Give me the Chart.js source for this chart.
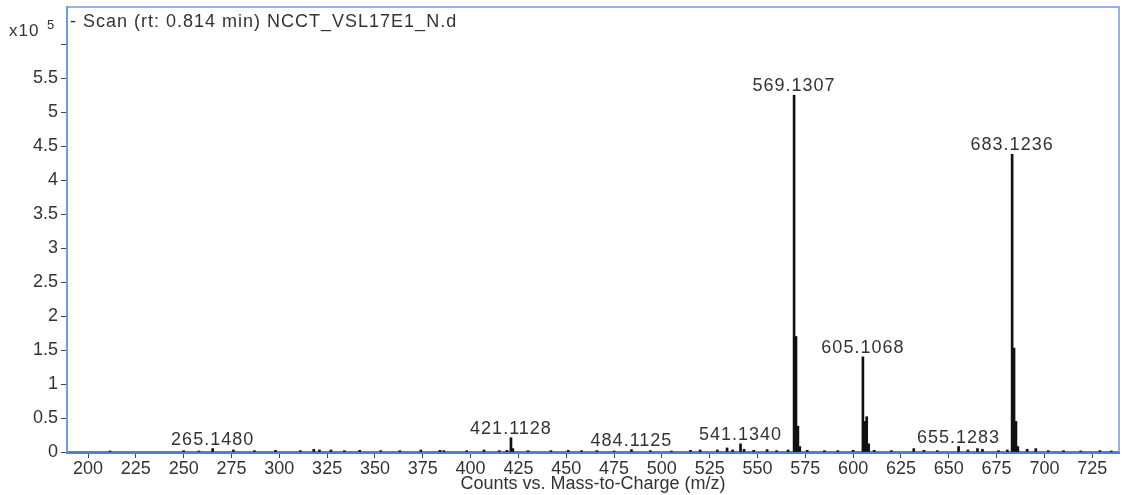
<!DOCTYPE html>
<html>
<head>
<meta charset="utf-8">
<script src="https://cdn.jsdelivr.net/npm/chart.js@4.4.1/dist/chart.umd.min.js"></script>
<style>
  html, body { margin: 0; padding: 0; background: #ffffff; }
  #wrap { position: relative; width: 1122px; height: 495px; }
</style>
</head>
<body>
<div id="wrap"><canvas id="c"></canvas></div>
<script>
// ---- data (intensity in units of 10^5 counts) ----
const mzValues = [
  211.5, 250, 258, 265.148, 276, 287, 298, 311, 318, 321, 327, 334, 342, 353, 363, 374,
  384, 386, 398, 407, 415, 419, 421.1128, 422.1, 430, 442, 451, 458, 466, 475, 484.1125,
  494, 505, 515, 520, 529, 534.1, 537, 541.134, 543, 548, 555, 560, 566,
  569.1307, 570.13, 571.13, 572.13, 576, 585, 592, 600,
  605.1068, 606.11, 607.10, 608.10, 611, 620, 631.7, 637, 644, 655.1283, 660, 665, 667.6, 676, 680.6,
  683.1236, 684.13, 685.12, 686.12, 691, 695.5, 702, 710, 719, 729, 735
];
const intensityValues = [
  0.015, 0.02, 0.015, 0.05, 0.03, 0.02, 0.025, 0.02, 0.04, 0.03, 0.03, 0.02, 0.025, 0.02, 0.02, 0.03,
  0.025, 0.02, 0.02, 0.03, 0.02, 0.025, 0.21, 0.05, 0.02, 0.02, 0.025, 0.02, 0.02, 0.015, 0.035,
  0.02, 0.015, 0.025, 0.03, 0.03, 0.06, 0.03, 0.12, 0.04, 0.025, 0.035, 0.02, 0.03,
  5.25, 1.70, 0.38, 0.08, 0.025, 0.02, 0.02, 0.025,
  1.40, 0.45, 0.52, 0.12, 0.025, 0.02, 0.05, 0.025, 0.02, 0.08, 0.03, 0.05, 0.04, 0.02, 0.03,
  4.38, 1.53, 0.45, 0.08, 0.04, 0.05, 0.02, 0.02, 0.015, 0.02, 0.015
];
const peakLabelMz = [265.148, 421.1128, 484.1125, 541.134, 569.1307, 605.1068, 655.1283, 683.1236];
const peakLabelText = ['265.1480', '421.1128', '484.1125', '541.1340', '569.1307', '605.1068', '655.1283', '683.1236'];
const xTickValues = [200, 225, 250, 275, 300, 325, 350, 375, 400, 425, 450, 475, 500, 525, 550, 575, 600, 625, 650, 675, 700, 725];
const yTickValues = [0, 0.5, 1, 1.5, 2, 2.5, 3, 3.5, 4, 4.5, 5, 5.5, 6];
const yTickLabels = ['0', '0.5', '1', '1.5', '2', '2.5', '3', '3.5', '4', '4.5', '5', '5.5', ''];
const titleText = '- Scan (rt: 0.814 min) NCCT_VSL17E1_N.d';
const xAxisTitle = 'Counts vs. Mass-to-Charge (m/z)';

const points = mzValues.map((m, i) => ({ x: m, y: intensityValues[i] }));

const FONT = '"Liberation Sans", Arial, sans-serif';
const TEXT = '#333333';
const BLUE = '#6f9be0';

const decor = {
  id: 'decor',
  afterDatasetsDraw(chart) {
    const { ctx, chartArea: a, scales: { x, y } } = chart;
    ctx.save();
    // frame (top/right)
    ctx.strokeStyle = BLUE;
    ctx.lineWidth = 1.5;
    ctx.beginPath();
    ctx.moveTo(a.left, a.top);
    ctx.lineTo(a.right, a.top);
    ctx.lineTo(a.right, a.bottom);
    ctx.stroke();
    // peak labels
    ctx.fillStyle = TEXT;
    ctx.font = '18px ' + FONT;
    if ('letterSpacing' in ctx) ctx.letterSpacing = '1px';
    ctx.textAlign = 'center';
    ctx.textBaseline = 'alphabetic';
    peakLabelMz.forEach((m, i) => {
      const idx = mzValues.indexOf(m);
      const v = intensityValues[idx];
      ctx.fillText(peakLabelText[i], x.getPixelForValue(m), y.getPixelForValue(v) - 4);
    });
    // scan title
    ctx.textAlign = 'left';
    ctx.textBaseline = 'middle';
    ctx.font = '18px ' + FONT;
    ctx.fillText(titleText, a.left + 3, 22);
    // x10^5 multiplier
    ctx.font = '17px ' + FONT;
    ctx.fillText('x10', 9, 31);
    ctx.font = '13px ' + FONT;
    ctx.fillText('5', 47, 25);
    ctx.restore();
  }
};

new Chart(document.getElementById('c'), {
  type: 'bar',
  data: {
    datasets: [{
      data: points,
      backgroundColor: '#111111',
      borderWidth: 0,
      barThickness: 2,
      grouped: false
    }]
  },
  options: {
    responsive: true,
    maintainAspectRatio: false,
    animation: false,
    layout: { padding: { top: 7, right: 3, left: 0, bottom: 0 } },
    plugins: { legend: { display: false }, tooltip: { enabled: false }, title: { display: false } },
    scales: {
      x: {
        type: 'linear',
        min: 189,
        max: 739,
        offset: false,
        afterBuildTicks: s => { s.ticks = xTickValues.map(v => ({ value: v })); },
        afterFit: s => { s.height = 43; },
        ticks: {
          color: TEXT,
          font: { family: FONT, size: 18 },
          padding: 0,
          maxRotation: 0,
          autoSkip: false,
          callback: v => String(v)
        },
        grid: { offset: false, drawOnChartArea: false, drawTicks: true, tickLength: 6, tickColor: '#444444' },
        border: { color: '#4f7fd0', width: 3 },
        title: {
          display: true,
          text: xAxisTitle,
          color: TEXT,
          font: { family: FONT, size: 18 },
          padding: { top: 0, bottom: 0 }
        }
      },
      y: {
        type: 'linear',
        min: 0,
        max: 6.55,
        afterBuildTicks: s => { s.ticks = yTickValues.map(v => ({ value: v })); },
        afterFit: s => { s.width = 67; s.paddingTop = 0; },
        ticks: {
          color: TEXT,
          font: { family: FONT, size: 18 },
          padding: 3,
          autoSkip: false,
          callback: (v) => { const i = yTickValues.indexOf(v); return i >= 0 ? yTickLabels[i] : ''; }
        },
        grid: { drawOnChartArea: false, drawTicks: true, tickLength: 6, tickColor: '#444444' },
        border: { color: BLUE, width: 2 }
      }
    }
  },
  plugins: [decor]
});
</script>
</body>
</html>
